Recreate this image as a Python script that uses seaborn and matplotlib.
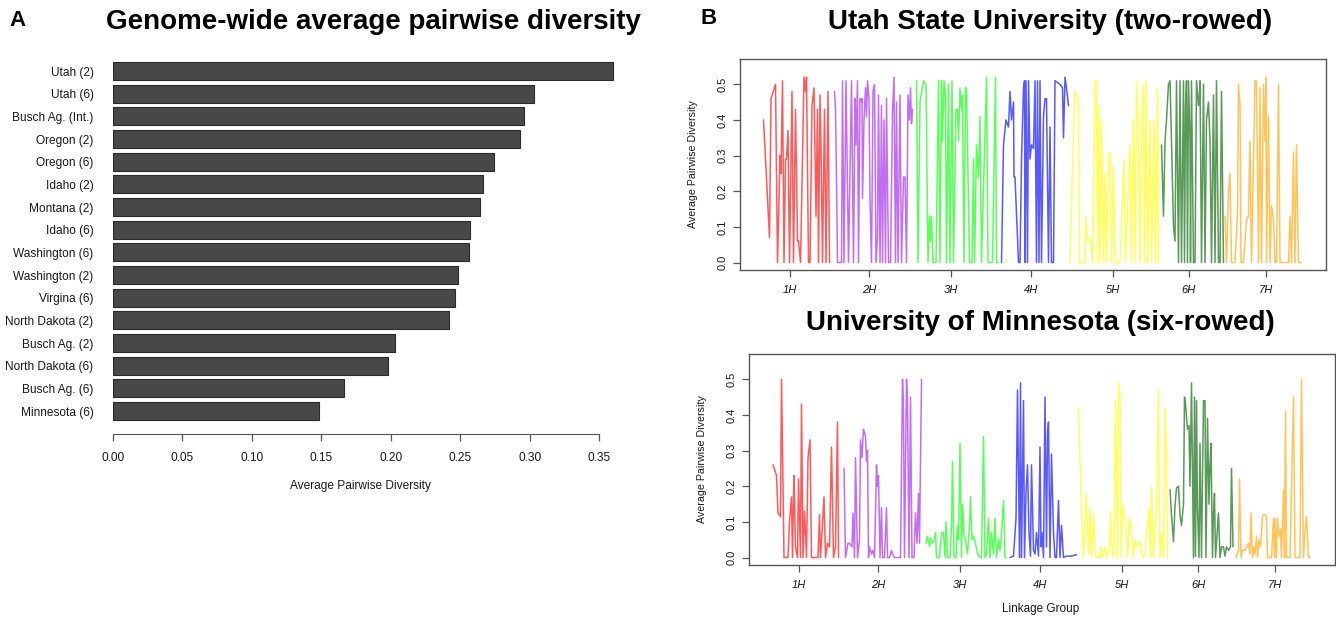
import matplotlib
matplotlib.use('Agg')
import matplotlib.pyplot as plt
import pandas as pd
import numpy as np
import seaborn as sns

# ---- panel A data ----
populations = ['Utah (2)', 'Utah (6)', 'Busch Ag. (Int.)', 'Oregon (2)', 'Oregon (6)',
               'Idaho (2)', 'Montana (2)', 'Idaho (6)', 'Washington (6)', 'Washington (2)',
               'Virgina (6)', 'North Dakota (2)', 'Busch Ag. (2)', 'North Dakota (6)',
               'Busch Ag. (6)', 'Minnesota (6)']
avg_diversity = [0.360, 0.303, 0.296, 0.293, 0.274, 0.266, 0.264, 0.257, 0.256, 0.248,
                 0.246, 0.242, 0.203, 0.198, 0.166, 0.148]
a_ticks = [0.00, 0.05, 0.10, 0.15, 0.20, 0.25, 0.30, 0.35]

# ---- panel B data ----
chromosomes = ['1H', '2H', '3H', '4H', '5H', '6H', '7H']
chrom_ticks = [100, 258, 422, 582, 746, 898, 1052]
chrom_colors = ['#FF0000', '#A020F0', '#00FF00', '#0000FF', '#FFFF00', '#006400', '#FFA500']

# Utah State University (two-rowed)
utah_1H_pos = [47, 59, 62, 71, 75, 80, 82, 85, 88, 91, 93, 96, 99, 104, 107, 111, 115, 117, 121, 128,
               131, 133, 137, 140, 144, 148, 152, 155, 157, 160, 163, 165, 169, 172, 176, 179]
utah_1H_div = [0.40, 0.07, 0.46, 0.50, 0.0, 0.30, 0.25, 0.51, 0.0, 0.29, 0.29, 0.37, 0.0, 0.48, 0.0, 0.43,
               0.06, 0.06, 0.0, 0.52, 0.48, 0.52, 0.0, 0.0, 0.44, 0.49, 0.13, 0.43, 0.0, 0.47, 0.24, 0.0,
               0.43, 0.0, 0.48, 0.0]
utah_2H_pos = [189, 191, 193, 195, 203, 205, 208, 212, 217, 223, 227, 230, 232, 235, 237, 240, 243, 244,
               245, 248, 251, 253, 255, 258, 260, 263, 266, 269, 272, 275, 277, 280, 283, 285, 288, 291,
               293, 297, 301, 305, 308, 311, 313, 316, 320, 323, 327, 330, 333, 336, 339, 341, 343, 345]
utah_2H_div = [0.48, 0.43, 0.24, 0.0, 0.0, 0.51, 0.0, 0.51, 0.0, 0.51, 0.0, 0.46, 0.33, 0.51, 0.0, 0.46,
               0.45, 0.46, 0.18, 0.40, 0.49, 0.41, 0.51, 0.46, 0.18, 0.0, 0.48, 0.50, 0.0, 0.07, 0.47, 0.0,
               0.44, 0.0, 0.40, 0.0, 0.46, 0.0, 0.0, 0.42, 0.52, 0.0, 0.45, 0.0, 0.47, 0.0, 0.24, 0.24,
               0.0, 0.47, 0.40, 0.49, 0.39, 0.43]
utah_3H_pos = [353, 356, 360, 367, 372, 376, 379, 381, 383, 386, 392, 397, 400, 403, 405, 408, 411, 413,
               417, 420, 424, 427, 432, 435, 437, 440, 443, 445, 448, 451, 453, 459, 464, 467, 469, 473,
               477, 480, 483, 493, 496, 501, 505, 511, 513, 517]
utah_3H_div = [0.51, 0.0, 0.45, 0.51, 0.50, 0.0, 0.13, 0.06, 0.13, 0.0, 0.0, 0.51, 0.0, 0.51, 0.34, 0.51,
               0.47, 0.0, 0.50, 0.0, 0.51, 0.0, 0.43, 0.43, 0.34, 0.49, 0.43, 0.47, 0.0, 0.49, 0.49, 0.0,
               0.0, 0.29, 0.0, 0.33, 0.24, 0.41, 0.0, 0.52, 0.0, 0.0, 0.0, 0.52, 0.0, 0.0]
utah_4H_pos = [523, 527, 532, 537, 540, 543, 547, 548, 550, 557, 560, 563, 567, 569, 570, 572, 575, 577,
               580, 583, 587, 590, 593, 595, 598, 600, 603, 607, 610, 613, 617, 620, 623, 627, 630, 640,
               645, 647, 650, 653, 657]
utah_4H_div = [0.0, 0.33, 0.40, 0.38, 0.48, 0.40, 0.45, 0.24, 0.24, 0.0, 0.0, 0.29, 0.49, 0.51, 0.0, 0.51,
               0.0, 0.51, 0.29, 0.33, 0.32, 0.51, 0.0, 0.51, 0.0, 0.51, 0.0, 0.41, 0.46, 0.46, 0.0, 0.38,
               0.0, 0.0, 0.51, 0.50, 0.49, 0.35, 0.52, 0.49, 0.44]
utah_5H_pos = [660, 667, 670, 677, 679, 690, 692, 695, 697, 699, 701, 705, 710, 713, 715, 717, 720, 723,
               727, 730, 733, 737, 740, 743, 747, 750, 757, 760, 768, 771, 780, 783, 787, 790, 793, 796,
               800, 803, 807, 809, 812, 815, 820, 823, 828, 831, 835, 837]
utah_5H_div = [0.0, 0.37, 0.48, 0.46, 0.0, 0.0, 0.13, 0.06, 0.07, 0.06, 0.06, 0.0, 0.51, 0.51, 0.0, 0.44,
               0.0, 0.40, 0.0, 0.25, 0.0, 0.30, 0.31, 0.0, 0.27, 0.0, 0.0, 0.0, 0.29, 0.0, 0.33, 0.0,
               0.40, 0.0, 0.51, 0.40, 0.0, 0.40, 0.50, 0.0, 0.51, 0.0, 0.40, 0.0, 0.40, 0.0, 0.49, 0.0]
utah_6H_pos = [843, 847, 850, 853, 857, 860, 863, 867, 870, 873, 877, 880, 883, 887, 889, 891, 893, 895,
               897, 900, 901, 903, 907, 910, 913, 917, 919, 920, 923, 927, 930, 933, 937, 940, 943, 947,
               950, 953, 957, 960, 963, 967]
utah_6H_div = [0.33, 0.13, 0.34, 0.40, 0.50, 0.51, 0.34, 0.10, 0.06, 0.51, 0.0, 0.51, 0.0, 0.51, 0.0, 0.44,
               0.51, 0.0, 0.51, 0.34, 0.0, 0.51, 0.0, 0.0, 0.51, 0.44, 0.47, 0.51, 0.0, 0.50, 0.0, 0.40,
               0.45, 0.34, 0.0, 0.47, 0.0, 0.51, 0.0, 0.0, 0.48, 0.0]
utah_7H_pos = [970, 973, 977, 980, 983, 990, 995, 997, 1000, 1002, 1007, 1013, 1017, 1020, 1023, 1030,
               1033, 1037, 1040, 1043, 1047, 1050, 1052, 1053, 1057, 1060, 1063, 1067, 1070, 1073, 1077,
               1080, 1083, 1097, 1100, 1103, 1107, 1110, 1113, 1117, 1123]
utah_7H_div = [0.13, 0.0, 0.20, 0.25, 0.0, 0.0, 0.14, 0.50, 0.44, 0.0, 0.0, 0.12, 0.13, 0.34, 0.0, 0.51,
               0.51, 0.0, 0.49, 0.0, 0.50, 0.34, 0.52, 0.0, 0.41, 0.0, 0.16, 0.12, 0.0, 0.0, 0.50, 0.0,
               0.0, 0.0, 0.13, 0.0, 0.31, 0.0, 0.33, 0.0, 0.0]

# University of Minnesota (six-rowed)
minn_1H_pos = [48, 55, 58, 63, 65, 70, 78, 81, 85, 87, 89, 90, 93, 97, 99, 103, 105, 108, 111, 115, 118,
               122, 125, 131, 138, 141, 143, 146, 150, 153, 157, 161, 165, 169, 173, 177, 179]
minn_1H_div = [0.26, 0.23, 0.125, 0.115, 0.50, 0.0, 0.0, 0.10, 0.17, 0.0, 0.17, 0.23, 0.03, 0.0, 0.22,
               0.0, 0.43, 0.0, 0.13, 0.0, 0.28, 0.33, 0.0, 0.0, 0.0, 0.12, 0.0, 0.07, 0.17, 0.0, 0.04,
               0.03, 0.31, 0.0, 0.03, 0.38, 0.0]
minn_2H_pos = [190, 193, 198, 201, 206, 208, 211, 213, 217, 221, 223, 226, 229, 233, 235, 237, 239, 241,
               245, 248, 251, 255, 257, 259, 262, 265, 267, 271, 275, 277, 281, 285, 287, 291, 298, 303,
               307, 309, 311, 315, 317, 320, 323, 326, 330, 333, 336, 339, 341, 345]
minn_2H_div = [0.25, 0.0, 0.04, 0.04, 0.03, 0.125, 0.0, 0.28, 0.0, 0.05, 0.33, 0.28, 0.36, 0.34, 0.27,
               0.30, 0.0, 0.03, 0.01, 0.02, 0.0, 0.26, 0.20, 0.23, 0.0, 0.14, 0.0, 0.0, 0.14, 0.0, 0.0,
               0.02, 0.01, 0.0, 0.0, 0.0, 0.50, 0.42, 0.0, 0.50, 0.44, 0.0, 0.45, 0.0, 0.0, 0.125, 0.04,
               0.18, 0.04, 0.50]
minn_3H_pos = [354, 357, 361, 363, 367, 370, 373, 375, 381, 382, 385, 389, 392, 394, 397, 402, 405, 407,
               410, 414, 417, 419, 422, 425, 427, 430, 433, 437, 441, 443, 446, 449, 453, 457, 462, 465,
               469, 472, 475, 479, 482, 485, 489, 492, 495, 499, 502, 505, 509, 512, 515]
minn_3H_div = [0.04, 0.06, 0.03, 0.055, 0.04, 0.05, 0.07, 0.0, 0.0, 0.02, 0.07, 0.07, 0.0, 0.10, 0.0, 0.0,
               0.09, 0.27, 0.0, 0.0, 0.09, 0.05, 0.32, 0.0, 0.15, 0.06, 0.05, 0.01, 0.09, 0.17, 0.05,
               0.06, 0.04, 0.01, 0.0, 0.0, 0.34, 0.0, 0.01, 0.11, 0.0, 0.07, 0.01, 0.11, 0.0, 0.05, 0.02,
               0.07, 0.16, 0.0, 0.0]
minn_4H_pos = [522, 529, 534, 537, 541, 543, 545, 549, 551, 554, 557, 560, 563, 565, 569, 572, 575, 579,
               582, 584, 586, 589, 592, 595, 597, 599, 602, 605, 609, 612, 615, 619, 622, 625, 629, 635,
               645, 655]
minn_4H_div = [0.0, 0.004, 0.11, 0.47, 0.0, 0.49, 0.0, 0.44, 0.0, 0.18, 0.26, 0.07, 0.004, 0.26, 0.02,
               0.01, 0.07, 0.004, 0.31, 0.03, 0.07, 0.0, 0.45, 0.03, 0.35, 0.38, 0.0, 0.29, 0.07, 0.0,
               0.0, 0.16, 0.0, 0.09, 0.0, 0.004, 0.004, 0.008]
minn_5H_pos = [659, 665, 669, 674, 679, 682, 685, 689, 692, 695, 701, 704, 706, 709, 712, 715, 721, 723,
               727, 730, 733, 737, 739, 742, 744, 747, 750, 754, 757, 761, 765, 769, 772, 775, 782, 785,
               789, 792, 795, 797, 800, 803, 805, 809, 812, 815, 819, 822, 825, 829, 832, 835, 837]
minn_5H_div = [0.42, 0.125, 0.0, 0.18, 0.01, 0.135, 0.0, 0.125, 0.01, 0.0, 0.0, 0.03, 0.0, 0.01, 0.03,
               0.0, 0.03, 0.13, 0.0, 0.01, 0.44, 0.0, 0.49, 0.45, 0.0, 0.15, 0.12, 0.10, 0.0, 0.11, 0.07,
               0.0, 0.05, 0.03, 0.045, 0.01, 0.0, 0.01, 0.07, 0.09, 0.135, 0.0, 0.20, 0.0, 0.07, 0.145,
               0.47, 0.0, 0.07, 0.0, 0.42, 0.275, 0.0]
minn_6H_pos = [842, 845, 849, 852, 855, 859, 862, 865, 869, 871, 873, 877, 880, 882, 885, 889, 891, 893,
               895, 897, 900, 902, 905, 909, 912, 914, 917, 920, 922, 924, 927, 929, 931, 933, 939, 942,
               945, 949, 952, 955, 959, 963, 965, 968]
minn_6H_div = [0.19, 0.12, 0.045, 0.145, 0.195, 0.20, 0.12, 0.09, 0.15, 0.45, 0.43, 0.36, 0.37, 0.20,
               0.49, 0.0, 0.45, 0.004, 0.44, 0.135, 0.0, 0.32, 0.0, 0.44, 0.44, 0.0, 0.39, 0.15, 0.26,
               0.32, 0.0, 0.125, 0.18, 0.0, 0.125, 0.0, 0.03, 0.03, 0.004, 0.03, 0.02, 0.03, 0.25, 0.03]
minn_7H_pos = [974, 979, 981, 984, 987, 991, 995, 999, 1002, 1004, 1007, 1009, 1012, 1015, 1017, 1020,
               1023, 1027, 1029, 1032, 1035, 1037, 1042, 1045, 1049, 1051, 1052, 1055, 1057, 1060, 1063,
               1065, 1069, 1071, 1073, 1075, 1082, 1089, 1092, 1102, 1105, 1109, 1112, 1115, 1119, 1122]
minn_7H_div = [0.0, 0.02, 0.22, 0.0, 0.02, 0.02, 0.03, 0.04, 0.01, 0.125, 0.0, 0.03, 0.01, 0.06, 0.0,
               0.05, 0.03, 0.115, 0.12, 0.12, 0.115, 0.0, 0.0, 0.0, 0.11, 0.0, 0.11, 0.0, 0.11, 0.06,
               0.08, 0.0, 0.19, 0.0, 0.41, 0.0, 0.0, 0.45, 0.0, 0.0, 0.50, 0.0, 0.07, 0.115, 0.0, 0.0]

utah_pos = [utah_1H_pos, utah_2H_pos, utah_3H_pos, utah_4H_pos, utah_5H_pos, utah_6H_pos, utah_7H_pos]
utah_div = [utah_1H_div, utah_2H_div, utah_3H_div, utah_4H_div, utah_5H_div, utah_6H_div, utah_7H_div]
minn_pos = [minn_1H_pos, minn_2H_pos, minn_3H_pos, minn_4H_pos, minn_5H_pos, minn_6H_pos, minn_7H_pos]
minn_div = [minn_1H_div, minn_2H_div, minn_3H_div, minn_4H_div, minn_5H_div, minn_6H_div, minn_7H_div]


def make_frame(pos_lists, div_lists):
    rows = []
    for chrom, pos, div in zip(chromosomes, pos_lists, div_lists):
        rows += [(chrom, p, d) for p, d in zip(pos, div)]
    return pd.DataFrame(rows, columns=['chrom', 'pos', 'diversity'])


df_utah = make_frame(utah_pos, utah_div)
df_minn = make_frame(minn_pos, minn_div)
df_bar = pd.DataFrame({'population': populations, 'diversity': avg_diversity})

sns.set_style('white')
plt.rcParams['font.family'] = ['Liberation Sans', 'DejaVu Sans']
plt.rcParams['text.color'] = 'black'

W, H = 1336, 621
fig = plt.figure(figsize=(W / 100, H / 100), dpi=100)
frame_col = '#555555'
label_col = '#1a1a1a'

# ---- A: horizontal bar chart ----
axA = fig.add_axes([113 / W, 1 - 434 / H, 521 / W, (434 - 48) / H])
sns.barplot(data=df_bar, x='diversity', y='population', orient='h', color='#484848',
            edgecolor='#2a2a2a', linewidth=0.8, width=0.8, saturation=1, ax=axA)
axA.set_xlim(0, 0.375)
axA.set_ylim(16.01, -1.015)
for s in ['top', 'right', 'left']:
    axA.spines[s].set_visible(False)
axA.spines['bottom'].set_bounds(0, 0.35)
axA.spines['bottom'].set_color(frame_col)
axA.set_xticks(a_ticks)
axA.set_xticklabels([f'{t:.2f}' for t in a_ticks])
axA.tick_params(axis='x', bottom=True, length=5, width=0.9, color=frame_col, labelsize=8.6,
                pad=8, labelcolor=label_col)
axA.tick_params(axis='y', left=False, length=0, labelsize=8.6, pad=14, labelcolor=label_col)
axA.set_ylabel('')
axA.set_xlabel('Average Pairwise Diversity', fontsize=8.6, color=label_col)
axA.xaxis.set_label_coords((360 - 113) / 521, -(480 - 434) / 386)


# ---- B: diversity along linkage groups ----
def diversity_panel(rect, df, title_y, title_x, title):
    ax = fig.add_axes(rect)
    sns.lineplot(data=df, x='pos', y='diversity', hue='chrom', palette=chrom_colors,
                 estimator=None, sort=False, legend=False, linewidth=1.1, alpha=0.65, ax=ax)
    ax.set_xlim(0, 1172)
    ax.set_ylim(-0.021, 0.571)
    for s in ax.spines.values():
        s.set_visible(True)
        s.set_color(frame_col)
        s.set_linewidth(1.0)
    ax.set_xticks(chrom_ticks)
    ax.set_xticklabels(chromosomes, fontstyle='italic')
    ax.set_yticks([0.0, 0.1, 0.2, 0.3, 0.4, 0.5])
    ax.set_yticklabels(['0.0', '0.1', '0.2', '0.3', '0.4', '0.5'])
    ax.tick_params(axis='x', bottom=True, length=5, width=0.9, color=frame_col, labelsize=8,
                   pad=6, labelcolor=label_col)
    ax.tick_params(axis='y', left=True, length=5, width=0.9, color=frame_col, labelsize=8,
                   pad=4, labelrotation=90, labelcolor=label_col)
    for t in ax.get_yticklabels():
        t.set_va('center')
    ax.set_xlabel('')
    ax.set_ylabel('Average Pairwise Diversity', fontsize=7.7, color=label_col)
    ax.yaxis.set_label_coords(-0.071, 0.5)
    fig.text(title_x / W, 1 - title_y / H, title, ha='center', va='center',
             fontsize=20, fontweight='bold', color='black')
    return ax


axT = diversity_panel([740 / W, 1 - 270 / H, 586 / W, 211 / H], df_utah, 22, 1050,
                      'Utah State University (two-rowed)')
axB = diversity_panel([749 / W, 1 - 565 / H, 586 / W, 211 / H], df_minn, 323, 1040,
                      'University of Minnesota (six-rowed)')
axB.set_xlabel('Linkage Group', fontsize=8.5, color=label_col)
axB.xaxis.set_label_coords(0.497, -0.18)

fig.text(373 / W, 1 - 22 / H, 'Genome-wide average pairwise diversity', ha='center', va='center',
         fontsize=20, fontweight='bold', color='black')
fig.text(18 / W, 1 - 20 / H, 'A', ha='center', va='center', fontsize=16, fontweight='bold',
         color='black')
fig.text(709 / W, 1 - 18 / H, 'B', ha='center', va='center', fontsize=16, fontweight='bold',
         color='black')

fig.savefig('out.png', dpi=100)
